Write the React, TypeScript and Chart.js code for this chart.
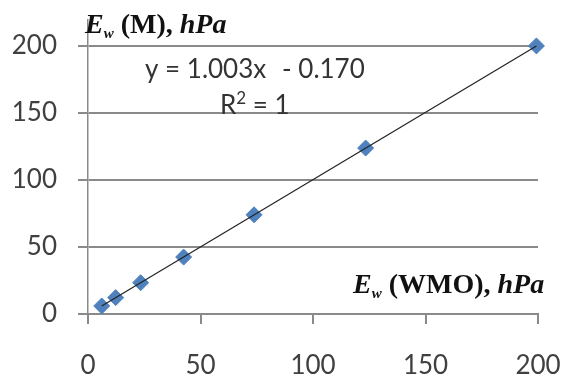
import React, { useEffect, useRef } from "react";
import { Chart, registerables } from "chart.js";

Chart.register(...registerables);

const wmoValues = [6.1, 12.3, 23.4, 42.5, 73.8, 123.4, 199.3];
const mValues = [6.0, 12.2, 23.3, 42.4, 73.9, 123.6, 199.7];
const trendX = [6.1, 199.3];
const trendY = [5.95, 199.7];
const xTicks = [0, 50, 100, 150, 200];
const yTicks = [0, 50, 100, 150, 200];
const equationLeft = "y = 1.003x";
const equationRight = "- 0.170";
const yTitleMain = "E";
const yTitleSub = "w";
const yTitleMid = " (M), ";
const yTitleEnd = "hPa";
const xTitleMid = " (WMO), ";

type Run = { text: string; font: string; dy?: number };

function drawRuns(ctx: CanvasRenderingContext2D, x: number, y: number, runs: Run[], color: string) {
  ctx.save();
  ctx.fillStyle = color;
  ctx.textBaseline = "alphabetic";
  ctx.textAlign = "left";
  let cx = x;
  for (const r of runs) {
    ctx.font = r.font;
    ctx.fillText(r.text, cx, y + (r.dy || 0));
    cx += ctx.measureText(r.text).width;
  }
  ctx.restore();
}

const serifBI = "italic bold 28px 'Liberation Serif'";
const serifB = "bold 28px 'Liberation Serif'";
const serifSub = "italic bold 15px 'Liberation Serif'";
const sans = "26px Lato";
const sansSup = "17px Lato";

const annotations = {
  id: "annotations",
  afterDraw(chart: any) {
    const ctx = chart.ctx as CanvasRenderingContext2D;
    drawRuns(ctx, 85, 33, [
      { text: yTitleMain, font: serifBI },
      { text: yTitleSub, font: serifSub, dy: 5 },
      { text: yTitleMid, font: serifB },
      { text: yTitleEnd, font: serifBI },
    ], "#111");
    drawRuns(ctx, 353, 293, [
      { text: yTitleMain, font: serifBI },
      { text: yTitleSub, font: serifSub, dy: 5 },
      { text: xTitleMid, font: serifB },
      { text: yTitleEnd, font: serifBI },
    ], "#111");
    drawRuns(ctx, 145, 78, [{ text: equationLeft, font: sans }], "#333");
    drawRuns(ctx, 282, 78, [{ text: equationRight, font: sans }], "#333");
    drawRuns(ctx, 220, 114, [
      { text: "R", font: sans },
      { text: "2", font: sansSup, dy: -10 },
      { text: " = 1", font: sans },
    ], "#333");
  },
};

export default function App() {
  const ref = useRef<HTMLCanvasElement>(null);
  useEffect(() => {
    if (!ref.current) return;
    const chart = new Chart(ref.current, {
      type: "scatter",
      data: {
        datasets: [
          {
            type: "line",
            label: "trend",
            data: trendX.map((x, i) => ({ x, y: trendY[i] })),
            borderColor: "#222",
            borderWidth: 1.2,
            pointRadius: 0,
            fill: false,
            clip: false,
            order: 0,
          } as any,
          {
            label: "data",
            data: wmoValues.map((x, i) => ({ x, y: mValues[i] })),
            pointStyle: "rectRot",
            pointRadius: 8,
            backgroundColor: "#4F81BD",
            borderColor: "#4F81BD",
            borderWidth: 1,
            clip: false,
            order: 1,
          },
        ],
      },
      options: {
        responsive: false,
        animation: false,
        devicePixelRatio: 1,
        layout: { padding: { left: 0, right: 26, top: 20, bottom: 0 } },
        plugins: { legend: { display: false }, tooltip: { enabled: false } },
        scales: {
          x: {
            type: "linear",
            min: 0,
            max: 200,
            afterFit: (s: any) => { s.height = 60; s.paddingLeft = 0; s.paddingRight = 0; },
            afterBuildTicks: (s: any) => { s.ticks = xTicks.map((v) => ({ value: v })); },
            ticks: { font: { family: "Lato", size: 26 }, color: "#404040", padding: 26, maxRotation: 0 },
            grid: { drawOnChartArea: false, drawTicks: true, tickLength: 10, color: "#8a8a8a", lineWidth: 2 },
            border: { display: true, color: "#8a8a8a", width: 2 },
          },
          y: {
            type: "linear",
            min: 0,
            max: 219,
            afterFit: (s: any) => { s.width = 88; s.paddingTop = 0; s.paddingBottom = 0; },
            afterBuildTicks: (s: any) => { s.ticks = yTicks.map((v) => ({ value: v })); },
            ticks: { font: { family: "Lato", size: 26 }, color: "#404040", padding: 21 },
            grid: { drawOnChartArea: true, drawTicks: true, tickLength: 10, color: "#8a8a8a", lineWidth: 2 },
            border: { display: true, color: "#8a8a8a", width: 1.5 },
          },
        },
      },
      plugins: [annotations],
    } as any);
    return () => chart.destroy();
  }, []);
  return (
    <div style={{ position: "fixed", left: 0, top: 0, width: 564, height: 374, background: "#fff" }}>
      <canvas ref={ref} width={564} height={374} />
    </div>
  );
}
